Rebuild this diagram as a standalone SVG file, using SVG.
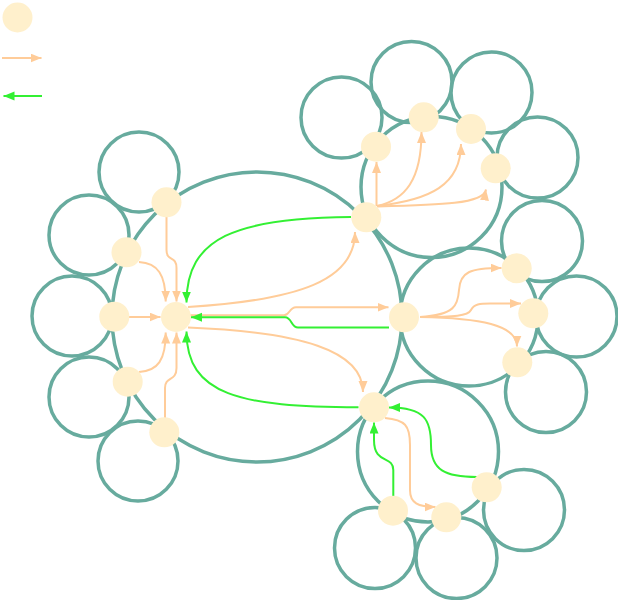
<svg xmlns="http://www.w3.org/2000/svg" width="618" height="600" viewBox="0 0 618 600">
<style>
.grp{fill:none;stroke:#67ab9e;stroke-width:3.5}
.node{fill:#fff0cc;stroke:none}
.o{fill:none;stroke:#ffcc99;stroke-width:2;marker-end:url(#ao)}
.g{fill:none;stroke:#33f033;stroke-width:2;marker-end:url(#ag)}
</style>
<defs>
<marker id="ao" markerUnits="userSpaceOnUse" markerWidth="12" markerHeight="10" refX="11" refY="4.5" orient="auto"><path d="M0,0 L11,4.5 L0,9 z" fill="#ffcc99"/></marker>
<marker id="ag" markerUnits="userSpaceOnUse" markerWidth="12" markerHeight="10" refX="11" refY="4.5" orient="auto"><path d="M0,0 L11,4.5 L0,9 z" fill="#33f033"/></marker>
</defs>
<rect width="618" height="600" fill="#ffffff"/>
<g id="groups">
<circle class="grp" cx="257" cy="317" r="145"/>
<circle class="grp" cx="139" cy="172" r="40"/>
<circle class="grp" cx="89" cy="235" r="40"/>
<circle class="grp" cx="72" cy="316" r="40"/>
<circle class="grp" cx="89" cy="397" r="40"/>
<circle class="grp" cx="138" cy="461" r="40"/>
<circle class="grp" cx="431.5" cy="187" r="70.5"/>
<circle class="grp" cx="341.5" cy="117.5" r="40.5"/>
<circle class="grp" cx="411.5" cy="82" r="40.5"/>
<circle class="grp" cx="491.5" cy="92.5" r="40.5"/>
<circle class="grp" cx="537.5" cy="157.5" r="40.5"/>
<circle class="grp" cx="469" cy="317" r="69"/>
<circle class="grp" cx="542" cy="241" r="40.5"/>
<circle class="grp" cx="576.5" cy="316.5" r="40.5"/>
<circle class="grp" cx="546" cy="392" r="40.5"/>
<circle class="grp" cx="428" cy="451.5" r="70.5"/>
<circle class="grp" cx="375" cy="548" r="40.5"/>
<circle class="grp" cx="456.5" cy="558" r="40.5"/>
<circle class="grp" cx="524" cy="510" r="40.5"/>
</g>
<g id="connectors">
<path class="o" d="M166.5,217 L166.5,250 C166.5,262 176.5,255 176.5,268 L176.5,301.5"/>
<path class="o" d="M139,262 C158,263 165.7,275 165.7,301.5"/>
<path class="o" d="M129,317 L160.5,317"/>
<path class="o" d="M139,372 C158,371 165.7,360 165.7,332.5"/>
<path class="o" d="M165,418 L165,388 C165,376 176.5,382 176.5,368 L176.5,332.5"/>
<path class="o" d="M188,307 C300,300 355,280 355,232"/>
<path class="g" d="M351,217 C235,218 186.5,238 186.5,302.5"/>
<path class="o" d="M190,315.3 L284,315.3 C290,315.3 289,307.3 296,307.3 L388.5,307.3"/>
<path class="g" d="M389,327.5 L298,327.5 C291,327.5 292,317.3 285,317.3 L191,317.3"/>
<path class="o" d="M188,327.5 C300,332 363,350 363,392"/>
<path class="g" d="M358.5,407.3 C240,407 186.5,395 186.5,331.5"/>
<path class="o" d="M376.5,206 L376.5,162"/>
<path class="o" d="M377,206 C405,200 421.5,180 421.5,132"/>
<path class="o" d="M377,206 C430,200 461,185 461,144"/>
<path class="o" d="M377,206.5 C440,205 484,204 486,189.5"/>
<path class="o" d="M420,317 C455,315 458,305 459,290 C460,272 470,268 501.5,268"/>
<path class="o" d="M420,317 C455,317 468,316 471,310 C474,304 480,303.5 490,303.5 L521,303.5"/>
<path class="o" d="M420,317 C480,318 517,325 517,346.5"/>
<path class="o" d="M385,418 C405,420 410,425 410,445 L410,490 C410,503 418,507 435.5,507"/>
<path class="g" d="M393.3,496 L393.3,470 C393.3,455 374,465 374,440 L374,422.5"/>
<path class="g" d="M477,477 C445,477 431,470 431,445 C431,420 425,407.5 389,407.5"/>
<path class="o" d="M2,58 L41.5,58"/>
<path class="g" d="M42,96 L3.5,96"/>
</g>
<g id="legend-node"><circle class="node" cx="17.5" cy="17.5" r="15"/></g>
<g id="n-center"><circle class="node" cx="176" cy="317" r="15"/></g>
<g id="n-l1"><circle class="node" cx="166.5" cy="202.3" r="15"/></g>
<g id="n-l2"><circle class="node" cx="126.5" cy="252.3" r="15"/></g>
<g id="n-l3"><circle class="node" cx="114.3" cy="316.7" r="15"/></g>
<g id="n-l4"><circle class="node" cx="127.7" cy="381.7" r="15"/></g>
<g id="n-l5"><circle class="node" cx="164.3" cy="432.3" r="15"/></g>
<g id="n-tr"><circle class="node" cx="366.3" cy="217.3" r="15"/></g>
<g id="n-tr1"><circle class="node" cx="376" cy="146.7" r="15"/></g>
<g id="n-tr2"><circle class="node" cx="423.7" cy="117.3" r="15"/></g>
<g id="n-tr3"><circle class="node" cx="471" cy="129" r="15"/></g>
<g id="n-tr4"><circle class="node" cx="495.7" cy="168.3" r="15"/></g>
<g id="n-r"><circle class="node" cx="404" cy="317.3" r="15"/></g>
<g id="n-r1"><circle class="node" cx="516.7" cy="268.3" r="15"/></g>
<g id="n-r2"><circle class="node" cx="533.3" cy="313.3" r="15"/></g>
<g id="n-r3"><circle class="node" cx="517.3" cy="362.3" r="15"/></g>
<g id="n-b"><circle class="node" cx="374" cy="407.3" r="15"/></g>
<g id="n-b1"><circle class="node" cx="393" cy="510.7" r="15"/></g>
<g id="n-b2"><circle class="node" cx="446.3" cy="517.3" r="15"/></g>
<g id="n-b3"><circle class="node" cx="486.7" cy="487.3" r="15"/></g>
</svg>
